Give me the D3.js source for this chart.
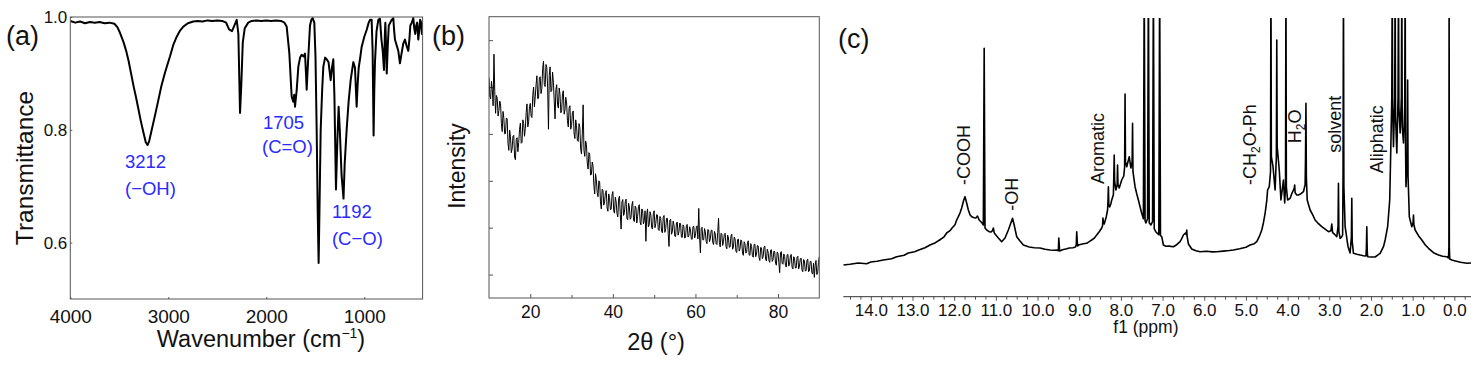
<!DOCTYPE html>
<html><head><meta charset="utf-8">
<script src="https://cdn.jsdelivr.net/npm/d3@7"></script>
<style>body{margin:0;background:#fff;} svg{display:block;font-family:"Liberation Sans",Arial,sans-serif;}</style>
</head><body><svg id="c" width="1483" height="366"></svg>
<script>
// ---------- (a) FTIR ----------
const ftirWavenumber = [4000,3950,3900,3850,3800,3750,3700,3650,3600,3550,3520,3493,3456,3430,3405,3380,3354,3330,3303,3280,3252,3230,3212,3195,3169,3135,3101,3070,3034,3010,2983,2950,2914,2880,2847,2800,2745,2700,2650,2600,2550,2500,2450,2410,2380,2350,2325,2302,2285,2268,2255,2240,2220,2184,2150,2100,2050,2000,1950,1900,1850,1815,1792,1765,1741,1725,1715,1707,1690,1673,1655,1639,1620,1605,1595,1588,1580,1571,1554,1540,1527,1510,1498,1486,1475,1466,1458,1445,1430,1418,1400,1384,1365,1343,1330,1316,1305,1289,1275,1262,1250,1232,1212,1200,1180,1160,1139,1125,1112,1095,1078,1068,1057,1040,1027,1000,976,955,942,925,915,905,898,891,875,857,840,825,812,799,790,785,778,771,760,750,735,720,704,695,687,670,653,636,620,602,585,570,551,540,530,515,500,490,480,470,460,449,440,430,420,412,405];
const ftirTransmittance = [0.993,0.990,0.992,0.989,0.991,0.990,0.991,0.989,0.990,0.988,0.982,0.972,0.955,0.940,0.922,0.900,0.877,0.858,0.835,0.815,0.794,0.778,0.773,0.780,0.800,0.826,0.853,0.878,0.901,0.915,0.930,0.950,0.965,0.976,0.983,0.989,0.992,0.993,0.992,0.994,0.993,0.994,0.993,0.990,0.978,0.975,0.985,0.995,0.970,0.830,0.880,0.955,0.980,0.990,0.993,0.994,0.993,0.994,0.993,0.994,0.993,0.990,0.983,0.936,0.859,0.850,0.862,0.841,0.870,0.912,0.928,0.933,0.930,0.935,0.900,0.871,0.900,0.930,0.985,0.995,0.998,0.990,0.930,0.800,0.650,0.564,0.650,0.800,0.870,0.912,0.928,0.925,0.920,0.888,0.910,0.925,0.860,0.694,0.780,0.841,0.800,0.720,0.678,0.740,0.800,0.850,0.888,0.905,0.920,0.910,0.841,0.880,0.910,0.930,0.947,0.965,0.977,0.990,0.995,0.995,0.940,0.790,0.870,0.920,0.975,0.995,0.997,0.960,0.940,0.906,0.970,0.990,0.950,0.900,0.950,0.985,0.990,0.995,0.998,0.975,0.960,0.950,0.940,0.918,0.935,0.953,0.960,0.950,0.940,0.960,0.985,0.990,0.998,0.980,0.970,0.985,0.990,0.960,0.975,0.995,0.990,0.970,0.990];
const ftirXTicks = [4000,3000,2000,1000];
const ftirYTicks = [0.6,0.8,1.0];
const ftirNotes = [
  {text:"3212", wn:3442, t:0.733},
  {text:"(\u2212OH)", wn:3442, t:0.685},
  {text:"1705", wn:2034, t:0.802},
  {text:"(C=O)", wn:2044, t:0.759},
  {text:"1192", wn:1330, t:0.644},
  {text:"(C\u2212O)", wn:1330, t:0.595}
];

// ---------- (b) XRD (2θ from 10 to 90, read every 0.2°) ----------
const xrdStart = 10, xrdEnd = 90;
const xrdIntensity = [
470,430,425,462,445,410,520,440,394,432,426,388,400,420,415,372,355,398,383,350,
351,384,382,330,315,358,344,310,318,345,347,300,295,338,342,312,332,360,373,330,
332,380,372,345,362,395,414,365,376,408,415,388,385,432,450,408,429,455,474,425,
426,470,472,436,447,490,505,455,451,498,492,450,360,475,493,440,443,482,460,420,
382,445,455,412,405,448,434,395,399,436,442,392,401,428,416,378,365,405,410,360,
368,395,399,352,340,380,368,336,334,372,364,318,307,350,412,315,302,335,327,288,
275,310,306,262,264,290,282,240,222,265,252,225,216,250,248,205,190,232,230,198,
205,225,229,192,185,222,214,188,190,220,227,186,181,215,205,180,173,212,217,178,
147,205,210,176,182,205,211,170,167,202,194,168,171,198,206,166,163,196,192,160,
174,195,199,162,156,190,188,158,165,186,121,178,190,152,156,184,177,150,147,180,
186,150,159,178,177,146,144,174,170,142,139,172,176,140,148,170,170,138,110,166,
168,136,141,164,156,132,131,160,162,134,141,160,158,130,129,156,152,128,129,154,
157,130,132,152,145,126,125,152,153,128,133,150,154,126,191,130,96,148,151,124,
124,148,141,120,116,146,145,120,126,144,145,118,114,142,137,116,114,140,170,118,
109,138,136,112,121,136,138,110,105,134,128,108,109,132,136,104,109,130,126,100,
97,124,126,100,105,124,122,96,91,120,116,96,97,118,122,92,91,116,110,90,
87,114,115,88,94,112,111,86,80,108,107,84,88,108,111,82,79,104,98,80,
76,102,103,78,82,100,99,74,70,98,95,76,54,96,99,74,72,94,89,70,
66,92,93,68,72,90,93,66,62,88,85,64,64,86,89,62,68,84,85,60,
56,82,79,58,58,80,83,56,58,78,78,54,51,74,44,70,80,50,53,76,
88];
const xrdXTicks = [20,40,60,80];
const xrdXMinor = [30,50,70];
const xrdYTicks = [50,150,250,350,450,550];

// ---------- (c) 1H NMR ----------
const nmrShift = [14.66,14.5,14.3,14.1,14.0,13.85,13.7,13.5,13.38,13.2,13.1,12.95,12.85,12.7,12.58,12.45,12.35,12.25,12.18,12.1,12.05,11.98,11.94,11.9,11.86,11.82,11.77,11.74,11.7,11.66,11.62,11.58,11.52,11.48,11.44,11.4,11.33,11.3,11.28,11.26,11.22,11.16,11.12,11.08,11.06,11.04,11.02,10.94,10.86,10.78,10.7,10.64,10.6,10.56,10.5,10.42,10.34,10.2,10.08,9.94,9.82,9.7,9.6,9.54,9.5,9.49,9.47,9.4,9.3,9.24,9.15,9.09,9.07,9.06,9.04,9.0,8.9,8.82,8.76,8.7,8.64,8.58,8.52,8.46,8.44,8.43,8.42,8.4,8.35,8.32,8.31,8.3,8.29,8.27,8.24,8.22,8.18,8.17,8.16,8.15,8.12,8.09,8.08,8.07,8.04,7.98,7.93,7.91,7.9,7.89,7.86,7.8,7.76,7.73,7.72,7.71,7.66,7.62,7.58,7.54,7.5,7.46,7.44,7.42,7.4,7.36,7.34,7.32,7.28,7.24,7.22,7.2,7.16,7.09,7.07,7.05,7.02,6.98,6.92,6.85,6.8,6.74,6.66,6.58,6.54,6.5,6.45,6.43,6.42,6.41,6.38,6.3,6.2,6.1,5.95,5.8,5.7,5.55,5.4,5.3,5.15,5.0,4.9,4.8,4.74,4.68,4.62,4.58,4.54,4.5,4.48,4.44,4.41,4.4,4.39,4.35,4.3,4.27,4.26,4.25,4.2,4.16,4.1,4.07,4.05,4.04,4.03,4.0,3.94,3.9,3.86,3.84,3.83,3.82,3.78,3.74,3.68,3.62,3.58,3.57,3.56,3.55,3.53,3.46,3.4,3.34,3.26,3.18,3.1,3.02,2.96,2.94,2.92,2.88,2.82,2.79,2.78,2.77,2.74,2.7,2.68,2.67,2.66,2.65,2.62,2.55,2.5,2.47,2.46,2.45,2.42,2.34,2.26,2.18,2.12,2.11,2.1,2.09,2.08,2.0,1.9,1.78,1.7,1.66,1.6,1.55,1.52,1.5,1.49,1.48,1.46,1.43,1.42,1.41,1.38,1.35,1.34,1.33,1.3,1.27,1.26,1.25,1.22,1.19,1.18,1.17,1.16,1.13,1.12,1.11,1.08,1.02,0.99,0.98,0.97,0.94,0.86,0.78,0.7,0.62,0.5,0.38,0.28,0.18,0.14,0.13,0.125,0.12,0.11,0.06,-0.05,-0.15,-0.3,-0.4];
const nmrIntensity = [31.7,32.5,33.7,33,34.7,35.5,36.7,38,40,41.5,43.7,45,46.7,49,51.7,54,56.7,59.5,63.7,66,68.7,72,76.7,80,83.7,88.7,96.7,100,93.7,86.7,82,80,79,78.7,80.7,76.7,73.7,71.7,248.4,68.7,66.7,65,64.7,66,68.7,64,62.7,58.7,55,58.7,66.7,73.7,78.4,71.7,60,55.7,51.7,49.7,49,48.7,47.5,46.7,46.5,46.7,46,58.7,45.7,47,48,48.7,49,49.7,52,65,50.7,52,53,53.4,55,56.7,58.5,61.7,65,68.7,71,78.7,74,72.7,80,86.7,95,110,92,89.7,93,96.7,102,120,141.7,115,106.7,112,131.7,112,108.7,116.7,120.7,130,202.7,135,130,140,128.7,135,173.4,125,110,103,96.7,90,83.4,78,320,76,73.7,78,320,74,71.7,75,320,68,64.7,62,320,61,60,51.7,50.5,50.7,50.3,50,52,55,58,61.7,63.7,62,66.7,60,52.7,47.7,46,45,45.5,44.8,45,45.6,46.2,46.7,48,49.5,51.7,53,55,60,66.7,74,83.4,96,106.7,110,125,320,140,130,106.7,140,256.7,150,126.7,96.7,116.7,93.7,110,320,110,96.7,98.4,103,106.7,109,111.7,104,101.7,101.7,103,105,112,140,193.4,120,96.7,86.7,82,76.7,73,70,67.5,65,66,72.7,64,62.7,60,70,113.4,65,58.4,60,61.7,120,320,110,70,50,43.7,60,98.4,55,43.4,42.5,41.7,41,40.7,48,70,46,40,39.7,39.7,43.4,50,56.7,70,96.7,156.7,200,320,190,150,200,320,180,143.7,200,320,190,163.7,200,320,170,153.7,190,320,150,110,140,216.7,120,80,70,74,81.7,72,66.7,61,56.7,52,48.4,44,41.7,40.5,40,38.7,50,320,50,37.7,36.7,35.5,34.5,33.4,33.7];
const nmrMajorTicks = [14,13,12,11,10,9,8,7,6,5,4,3,2,1,0];
const nmrNotes = [
  {label:["-COOH"], ppm:11.62, v:111.7},
  {label:["-OH"], ppm:10.47, v:86},
  {label:["Aromatic"], ppm:8.40, v:112.7},
  {label:["-CH","2","O-Ph"], ppm:4.76, v:111.7},
  {label:["H","2","O"], ppm:3.69, v:153.4},
  {label:["solvent"], ppm:2.72, v:144},
  {label:["Aliphatic"], ppm:1.70, v:123.4}
];

const svg = d3.select("#c");
const defs = svg.append("defs");
const frameColor = "#555";

function styleAxis(g){ g.select(".domain").remove(); g.selectAll(".tick line").attr("stroke", frameColor); }

// ================= Panel (a) =================
const ax = d3.scaleLinear().domain([4000,405]).range([70.3,422.6]);
const ay = d3.scaleLinear().domain([0.5,1.0]).range([299,17]);
defs.append("clipPath").attr("id","clipA").append("rect")
  .attr("x",ax.range()[0]).attr("y",ay.range()[1]-1).attr("width",ax.range()[1]-ax.range()[0]).attr("height",ay.range()[0]-ay.range()[1]+1);
const ga = svg.append("g");
const gaX = ga.append("g").attr("transform",`translate(0,${ay.range()[0]})`)
  .call(d3.axisBottom(ax).tickValues(ftirXTicks).tickSize(-2).tickFormat(d3.format("d")));
styleAxis(gaX);
gaX.selectAll("text").attr("y",24).attr("dy",null).attr("font-size",19).attr("fill","#111").attr("font-family","Liberation Sans, Arial, sans-serif");
const gaY = ga.append("g").attr("transform",`translate(${ax.range()[0]},0)`)
  .call(d3.axisLeft(ay).tickValues(ftirYTicks).tickSize(-2).tickFormat(d3.format(".1f")));
styleAxis(gaY);
gaY.selectAll("text").attr("x",-3).attr("font-size",17).attr("fill","#111").attr("font-family","Liberation Sans, Arial, sans-serif");
ga.append("path").attr("clip-path","url(#clipA)")
  .datum(ftirWavenumber.map((w,i)=>[w,ftirTransmittance[i]]))
  .attr("fill","none").attr("stroke","#000").attr("stroke-width",2).attr("stroke-linejoin","round")
  .attr("d", d3.line().x(d=>ax(d[0])).y(d=>ay(d[1])));
ga.append("rect").attr("x",ax.range()[0]).attr("y",ay.range()[1]).attr("width",ax.range()[1]-ax.range()[0]).attr("height",ay.range()[0]-ay.range()[1])
  .attr("fill","none").attr("stroke",frameColor).attr("stroke-width",1);
ga.selectAll("text.note").data(ftirNotes).join("text").attr("class","note")
  .attr("x",d=>ax(d.wn)).attr("y",d=>ay(d.t)).attr("font-size",18.5).attr("fill","#2a2aff").text(d=>d.text);
ga.append("text").attr("transform",`translate(33,${(ay.range()[0]+ay.range()[1])/2+10}) rotate(-90)`)
  .attr("text-anchor","middle").attr("font-size",24.5).attr("fill","#111").text("Transmittance");
const wl = ga.append("text").attr("x",261).attr("y",347).attr("text-anchor","middle").attr("font-size",23.5).attr("fill","#111");
wl.append("tspan").text("Wavenumber (cm");
wl.append("tspan").attr("font-size",14).attr("dy",-9).text("\u22121");
wl.append("tspan").attr("dy",9).text(")");
svg.append("text").attr("x",6).attr("y",45).attr("font-size",27).attr("fill","#111").text("(a)");

// ================= Panel (b) =================
const bx = d3.scaleLinear().domain([xrdStart,xrdEnd]).range([489,819.3]);
const by = d3.scaleLinear().domain([0,600]).range([298,16.7]);
const xrdTheta = xrdIntensity.map((v,i)=> xrdStart + i*(xrdEnd-xrdStart)/(xrdIntensity.length-1));
defs.append("clipPath").attr("id","clipB").append("rect")
  .attr("x",bx.range()[0]).attr("y",by.range()[1]).attr("width",bx.range()[1]-bx.range()[0]).attr("height",by.range()[0]-by.range()[1]);
const gb = svg.append("g");
const gbX = gb.append("g").attr("transform",`translate(0,${by.range()[0]})`)
  .call(d3.axisBottom(bx).tickValues(xrdXTicks).tickSize(-4).tickFormat(d3.format("d")));
styleAxis(gbX);
gbX.selectAll("text").attr("y",20).attr("dy",null).attr("font-size",17.5).attr("fill","#111").attr("font-family","Liberation Sans, Arial, sans-serif");
const gbXm = gb.append("g").attr("transform",`translate(0,${by.range()[0]})`)
  .call(d3.axisBottom(bx).tickValues(xrdXMinor).tickSize(-3).tickFormat(""));
styleAxis(gbXm);
const gbY = gb.append("g").attr("transform",`translate(${bx.range()[0]},0)`)
  .call(d3.axisLeft(by).tickValues(xrdYTicks).tickSize(-4).tickFormat(""));
styleAxis(gbY);
gb.append("path").attr("clip-path","url(#clipB)")
  .datum(xrdTheta.map((t,i)=>[t,xrdIntensity[i]]))
  .attr("fill","none").attr("stroke","#000").attr("stroke-width",1).attr("stroke-linejoin","miter").attr("stroke-miterlimit",2)
  .attr("d", d3.line().x(d=>bx(d[0])).y(d=>by(d[1])));
gb.append("rect").attr("x",bx.range()[0]).attr("y",by.range()[1]).attr("width",bx.range()[1]-bx.range()[0]).attr("height",by.range()[0]-by.range()[1])
  .attr("fill","none").attr("stroke",frameColor).attr("stroke-width",1);
gb.append("text").attr("transform",`translate(465,166) rotate(-90)`)
  .attr("text-anchor","middle").attr("font-size",23).attr("fill","#111").text("Intensity");
gb.append("text").attr("x",656).attr("y",350).attr("text-anchor","middle").attr("font-size",23.5).attr("fill","#111").text("2\u03b8 (\u00b0)");
svg.append("text").attr("x",432).attr("y",45).attr("font-size",27).attr("fill","#111").text("(b)");

// ================= Panel (c) =================
const cx = d3.scaleLinear().domain([14.66,-0.4]).range([843.3,1471]);
const cy = d3.scaleLinear().domain([0,280]).range([296.7,16.7]);
defs.append("clipPath").attr("id","clipC").append("rect")
  .attr("x",cx.range()[0]).attr("y",18).attr("width",cx.range()[1]-cx.range()[0]).attr("height",cy.range()[0]-18);
const gc = svg.append("g");
const minorTicks = d3.range(-0.25, 14.6, 0.25).filter(v => Math.abs(v - Math.round(v)) > 0.01);
const gcm = gc.append("g").attr("transform",`translate(0,${cy.range()[0]})`)
  .call(d3.axisBottom(cx).tickValues(minorTicks).tickSize(3).tickFormat(""));
styleAxis(gcm);
const gcX = gc.append("g").attr("transform",`translate(0,${cy.range()[0]})`)
  .call(d3.axisBottom(cx).tickValues(nmrMajorTicks).tickSize(4).tickFormat(d3.format(".1f")));
styleAxis(gcX);
gcX.selectAll("text").attr("y",19).attr("dy",null).attr("font-size",17).attr("fill","#111").attr("font-family","Liberation Sans, Arial, sans-serif");
gc.append("line").attr("x1",cx.range()[0]).attr("x2",cx.range()[1]).attr("y1",cy.range()[0]).attr("y2",cy.range()[0]).attr("stroke","#333").attr("stroke-width",1);
gc.append("path").attr("clip-path","url(#clipC)")
  .datum(nmrShift.map((s,i)=>[s,nmrIntensity[i]]))
  .attr("fill","none").attr("stroke","#000").attr("stroke-width",1.6).attr("stroke-linejoin","round")
  .attr("d", d3.line().x(d=>cx(d[0])).y(d=>cy(d[1])));
gc.selectAll("text.lab").data(nmrNotes).join("text").attr("class","lab")
  .attr("transform",d=>`translate(${cx(d.ppm)},${cy(d.v)}) rotate(-90)`)
  .attr("font-size",18).attr("fill","#111")
  .each(function(d){
    const t = d3.select(this);
    if (d.label.length === 1) { t.text(d.label[0]); return; }
    t.append("tspan").text(d.label[0]);
    t.append("tspan").attr("font-size",12).attr("dy",4).text(d.label[1]);
    t.append("tspan").attr("dy",-4).text(d.label[2]);
  });
gc.append("text").attr("x",cx(7.4)).attr("y",333).attr("text-anchor","middle").attr("font-size",17.5).attr("fill","#111").text("f1 (ppm)");
svg.append("text").attr("x",838).attr("y",48).attr("font-size",27).attr("fill","#111").text("(c)");
</script></body></html>
